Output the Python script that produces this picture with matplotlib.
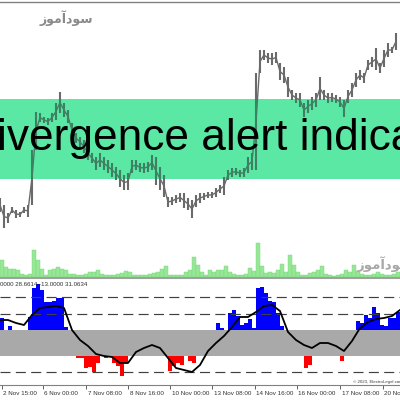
import numpy as np
import matplotlib
matplotlib.use("Agg")
import matplotlib.pyplot as plt
from matplotlib.collections import LineCollection
from matplotlib.lines import Line2D
import matplotlib.transforms as mtransforms

# ---------------- data ----------------
high = [102, 95, 87, 93, 90, 88, 93, 95, 150, 188,
        187, 183, 182, 187, 197, 208, 197, 190, 177, 167,
        163, 160, 153, 147, 143, 147, 143, 140, 137, 133,
        130, 125, 127, 140, 140, 137, 137, 138, 145, 143,
        133, 125, 103, 103, 105, 107, 107, 102, 100, 105,
        107, 107, 108, 108, 112, 115, 123, 130, 132, 132,
        130, 132, 143, 147, 227, 250, 250, 247, 247, 248,
        237, 233, 223, 210, 207, 207, 197, 200, 203, 207,
        223, 210, 207, 207, 205, 203, 200, 210, 217, 227,
        230, 227, 240, 243, 252, 237, 250, 257, 253, 267]
low = [88, 72, 77, 87, 82, 83, 87, 83, 95, 150,
       178, 177, 175, 178, 180, 187, 183, 177, 163, 157,
       153, 147, 140, 137, 130, 133, 130, 127, 123, 120,
       113, 110, 110, 127, 130, 128, 127, 128, 130, 115,
       110, 103, 93, 95, 97, 98, 92, 90, 82, 93,
       97, 100, 102, 102, 103, 107, 105, 120, 123, 125,
       123, 123, 127, 130, 130, 227, 240, 237, 235, 237,
       220, 217, 203, 200, 197, 193, 183, 187, 190, 193,
       200, 200, 197, 198, 197, 193, 183, 197, 203, 213,
       220, 217, 230, 233, 230, 227, 233, 243, 247, 250]
volume = [17, 10, 8, 8, 7, 3, 2, 3, 27, 17,
          8, 2, 7, 8, 10, 8, 7, 3, 3, 2,
          2, 3, 5, 5, 7, 3, 2, 2, 2, 3,
          4, 6, 5, 2, 2, 2, 2, 3, 4, 5,
          8, 11, 2, 2, 2, 2, 5, 7, 20, 12,
          5, 2, 7, 5, 7, 7, 11, 5, 3, 2,
          2, 3, 9, 6, 34, 11, 4, 5, 4, 7,
          13, 5, 22, 12, 5, 2, 2, 4, 5, 7,
          11, 3, 2, 1, 2, 3, 7, 5, 12, 5,
          3, 2, 2, 3, 5, 3, 2, 2, 3, 5]
hist = [25, 5, 17, 5, 5, 8, 10, 26, 55, 59,
        53, 41, 41, 42, 45, 45, 16, 3, -5, -15,
        -15, -25, -24, -29, -20, -10, -15, -5, -20, -23,
        -33, -20, -10, 0, 0, 0, 0, 0, 5, -5,
        0, -10, -28, -23, -20, -22, -5, -18, -20, -5,
        0, 0, 0, 5, 20, 15, 5, 30, 33, 27,
        18, 20, 24, 15, 55, 56, 50, 42, 41, 30,
        17, 3, -5, -5, 0, -8, -25, -22, -5, 5,
        0, 0, 0, 0, 0, -18, -5, 0, 5, 22,
        20, 28, 25, 36, 30, 18, 17, 25, 25, 31]
signal = [23, 23, 20, 18, 28, 35, 36, 37, 35, 13,
          3, -3, -11, -13, -14, -20, -20, -9, -5, -2,
          -5, -15, -25, -27, -29, -22, -8, 0, 7, 16,
          26, 26, 31, 37, 38, 32, 11, 3, -2, -5,
          0, 0, -3, -8, 2, 15, 21, 24, 25, 27, 33]
band_level = 13
dashed_levels = [46, 29, -29, -46]
tick_pos = [0.4, 10.75, 21.5, 32, 42.5, 53, 63.75, 74.25, 85, 95.75]
tick_labels = ["2 Nov 15:00", "6 Nov 00:00", "7 Nov 08:00", "8 Nov 16:00",
               "10 Nov 00:00", "13 Nov 08:00", "14 Nov 16:00", "16 Nov 00:00",
               "17 Nov 08:00", "20 Nov 00:00"]
header = "0000 28.6614 -13.0000 31.0634"
title = "Divergence alert indicator"
watermark = "سودآموز"
copyright_txt = "\u00a9 2023, ElectroLegal.com"

# ---------------- minimal Arabic shaping (matplotlib has no shaping) ----------------
AR_FORMS = {
    'س': ('\uFEB1', '\uFEB2', '\uFEB3', '\uFEB4'),
    'و': ('\uFEED', '\uFEEE', None, None),
    'د': ('\uFEA9', '\uFEAA', None, None),
    'آ': ('\uFE81', '\uFE82', None, None),
    'ا': ('\uFE8D', '\uFE8E', None, None),
    'م': ('\uFEE1', '\uFEE2', '\uFEE3', '\uFEE4'),
    'ز': ('\uFEAF', '\uFEB0', None, None),
}


def shape_arabic(s):
    out = []
    n = len(s)
    for k, ch in enumerate(s):
        iso, fin, ini, med = AR_FORMS[ch]
        prev_j = k > 0 and AR_FORMS[s[k - 1]][2] is not None
        next_j = k < n - 1 and ini is not None
        if prev_j and next_j:
            out.append(med)
        elif prev_j:
            out.append(fin)
        elif next_j:
            out.append(ini)
        else:
            out.append(iso)
    return "".join(reversed(out))


# ---------------- figure ----------------
W = H = 400
fig = plt.figure(figsize=(4, 4), dpi=100)
fig.patch.set_facecolor("white")


def fy(py):
    return 1 - py / H


x = np.arange(len(high))

# main price panel
ax = fig.add_axes([0, fy(277), 1, 275 / H])
ax.set_xlim(0, 100)
ax.set_ylim(23, 298)
ax.axis("off")

segs = [[(xi, lo), (xi, hi)] for xi, lo, hi in zip(x, low, high)]
mid = (np.array(high) + np.array(low)) / 2
price_color = "#6a6a6a"
lc = LineCollection(segs, colors=price_color, linewidths=1.5, zorder=2)
ax.add_collection(lc)
ax.plot(x, mid, color=price_color, lw=1.0, zorder=2)

band = ax.axhspan(300 - 179, 300 - 99, color="#5BE8A5", zorder=3, lw=0)
lc2 = LineCollection(segs, colors="#3f7f62", linewidths=1.5, zorder=4)
ax.add_collection(lc2)
lc2.set_clip_path(band)
ln2, = ax.plot(x, mid, color="#3f7f62", lw=1.0, zorder=4)
ln2.set_clip_path(band)

# volume
axv = ax.twinx()
axv.set_ylim(0, 275)
axv.axis("off")
axv.bar(x, volume, width=1.0, color="#96e896", edgecolor="#7ad67a", lw=0.3, align="edge")

# indicator panel
ai = fig.add_axes([0, fy(385), 1, 106 / H])
ai.set_xlim(0, 100)
ai.set_ylim(-42, 64)
hist_arr = np.array(hist)
cols = ["#0000ff" if v > 0 else "#ff0000" for v in hist_arr]
ai.bar(x, hist_arr, width=1.0, color=cols, align="edge", zorder=1, lw=0)
ai.axhspan(-band_level, band_level, color="#a9a9a9", zorder=2, lw=0)
for lv in dashed_levels:
    ai.axhline(lv, color="#404040", lw=0.85, linestyle=(0, (8.5, 4.5)), zorder=1.5)
ai.plot(np.arange(len(signal)) * 2, signal, color="black", lw=1.3, zorder=5)

for s in ["top", "left", "right"]:
    ai.spines[s].set_visible(False)
ai.spines["bottom"].set_color("#808080")
ai.spines["bottom"].set_linewidth(0.8)
ai.set_yticks([])
ai.set_xticks(tick_pos)
ai.set_xticklabels(tick_labels, fontsize=4.5, family="Liberation Sans", color="#303030")
ai.tick_params(axis="x", direction="out", length=3, width=0.7, color="#606060", pad=1.5)
offset = mtransforms.ScaledTranslation(1.5 / 100, 0, fig.dpi_scale_trans)
for lab in ai.get_xticklabels():
    lab.set_horizontalalignment("left")
    lab.set_transform(lab.get_transform() + offset)

# header text in indicator
fig.text(0.0, fy(285), header, fontsize=4.4, family="Liberation Sans",
         color="#303030", va="center", ha="left")
fig.text(353 / W, fy(381.5), copyright_txt, fontsize=3.2, family="Liberation Sans",
         color="#404040", va="center", ha="left")

# frame lines
fig.add_artist(Line2D([0, 1], [fy(1.5), fy(1.5)], transform=fig.transFigure,
                      color="#808080", lw=1.0))
fig.add_artist(Line2D([0, 1], [fy(278), fy(278)], transform=fig.transFigure,
                      color="#a0a0a0", lw=1.5))

# watermarks
shaped = shape_arabic(watermark)
fig.text(40 / W, fy(18.5), shaped, fontsize=9, family="DejaVu Sans", weight="bold",
         color="#8a8a8a", va="center", ha="left")
fig.text(357 / W, fy(264.5), shaped, fontsize=9.5, family="DejaVu Sans", weight="bold",
         color="#a8a8a8", va="center", ha="left")

# title banner text
fig.text(-35 / W, fy(150), title, fontsize=31.9, family="Liberation Sans",
         color="black", va="baseline", ha="left", zorder=10)

fig.savefig("out.png", dpi=100, facecolor="white")
